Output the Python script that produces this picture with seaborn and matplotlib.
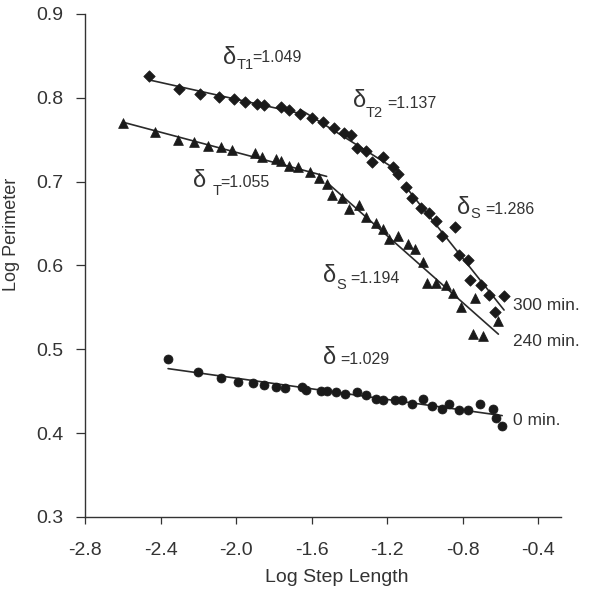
import matplotlib
matplotlib.use("Agg")
import numpy as np
import matplotlib.pyplot as plt
import seaborn as sns

# 300 min. (diamonds)
x_300 = [-2.46, -2.30, -2.19, -2.09, -2.01, -1.95, -1.89, -1.85, -1.76, -1.72,
         -1.66, -1.60, -1.54, -1.48, -1.43, -1.39, -1.36, -1.31, -1.28, -1.22,
         -1.17, -1.14, -1.10, -1.07, -1.02, -0.98, -0.94, -0.91, -0.84, -0.82,
         -0.77, -0.76, -0.70, -0.66, -0.63, -0.58]
y_300 = [0.826, 0.811, 0.805, 0.801, 0.798, 0.795, 0.793, 0.791, 0.789, 0.785,
         0.781, 0.776, 0.771, 0.764, 0.758, 0.756, 0.740, 0.737, 0.723, 0.729,
         0.718, 0.709, 0.693, 0.680, 0.669, 0.662, 0.653, 0.635, 0.646, 0.612,
         0.606, 0.583, 0.577, 0.565, 0.545, 0.563]

# 240 min. (triangles)
x_240 = [-2.60, -2.43, -2.31, -2.22, -2.15, -2.08, -2.02, -1.90, -1.86, -1.79,
         -1.76, -1.72, -1.67, -1.61, -1.56, -1.52, -1.49, -1.44, -1.40, -1.35,
         -1.31, -1.26, -1.22, -1.19, -1.14, -1.09, -1.05, -1.01, -0.99, -0.94,
         -0.89, -0.85, -0.81, -0.735, -0.61, -0.745, -0.69]
y_240 = [0.770, 0.759, 0.750, 0.747, 0.743, 0.741, 0.738, 0.734, 0.729, 0.727,
         0.725, 0.719, 0.717, 0.712, 0.704, 0.697, 0.684, 0.681, 0.667, 0.672,
         0.658, 0.651, 0.644, 0.631, 0.635, 0.626, 0.620, 0.604, 0.579, 0.579,
         0.577, 0.567, 0.550, 0.561, 0.534, 0.518, 0.516]

# 0 min. (circles)
x_0 = [-2.36, -2.20, -2.08, -1.99, -1.91, -1.85, -1.79, -1.74, -1.65, -1.63,
       -1.55, -1.52, -1.47, -1.42, -1.36, -1.31, -1.26, -1.22, -1.16, -1.12,
       -1.07, -1.01, -0.96, -0.91, -0.87, -0.82, -0.77, -0.71, -0.64, -0.62,
       -0.59]
y_0 = [0.489, 0.473, 0.466, 0.461, 0.460, 0.457, 0.455, 0.454, 0.455, 0.451,
       0.450, 0.450, 0.449, 0.447, 0.449, 0.445, 0.441, 0.439, 0.439, 0.439,
       0.435, 0.441, 0.432, 0.429, 0.435, 0.427, 0.427, 0.435, 0.429, 0.418,
       0.408]

# x ranges of the fitted straight segments
seg_300 = [(-2.47, -1.66), (-1.66, -1.14), (-1.10, -0.57)]
seg_240 = [(-2.61, -1.52), (-1.52, -0.60)]
seg_0 = [(-2.37, -0.58)]

x_ticks = [-2.8, -2.4, -2.0, -1.6, -1.2, -0.8, -0.4]
y_ticks = [0.3, 0.4, 0.5, 0.6, 0.7, 0.8, 0.9]

sns.set_theme(style="ticks")
plt.rcParams['font.family'] = ['Liberation Sans', 'DejaVu Sans']

ink = '#1a1a1a'
txt = '#333333'

fig = plt.figure(figsize=(5.95, 5.96), dpi=100)
ax = fig.add_axes([0.1429, 0.1326, 0.7994, 0.844])


def draw_series(xs, ys, segs, marker, size):
    xs = np.array(xs)
    ys = np.array(ys)
    sns.scatterplot(x=xs, y=ys, marker=marker, s=size, color=ink,
                    edgecolor=ink, linewidth=0.5, ax=ax, zorder=3)
    for lo, hi in segs:
        m = (xs >= lo) & (xs <= hi)
        sns.regplot(x=xs[m], y=ys[m], scatter=False, ci=None, truncate=True,
                    color='#2a2a2a', line_kws={'linewidth': 1.2}, ax=ax)


draw_series(x_300, y_300, seg_300, 'D', 34)
draw_series(x_240, y_240, seg_240, '^', 50)
draw_series(x_0, y_0, seg_0, 'o', 42)

ax.set_xlim(-2.8, -0.28)
ax.set_ylim(0.3, 0.9)
ax.set_xticks(x_ticks)
ax.set_yticks(y_ticks)
ax.set_xticklabels([f"{v:.1f}" for v in x_ticks])
ax.set_yticklabels([f"{v:.1f}" for v in y_ticks])
ax.tick_params(axis='x', length=5, width=0.9, pad=13, labelsize=14,
               colors=txt)
ax.tick_params(axis='y', length=6.5, width=0.9, pad=9, labelsize=14,
               colors=txt)
for side in ['top', 'right']:
    ax.spines[side].set_visible(False)
for side in ['left', 'bottom']:
    ax.spines[side].set_color('#333333')
    ax.spines[side].set_linewidth(1.0)

ax.set_xlabel("Log Step Length", fontsize=14, color=txt, va='center')
ax.set_ylabel("Log Perimeter", fontsize=13, color=txt)
ax.xaxis.set_label_coords(0.53, -0.121)
ax.yaxis.set_label_coords(-0.137, 0.561)


def delta_label(x, y, sub, sub_x, sub_y, num, num_x, num_y):
    ax.text(x, y, "δ", fontsize=17, color=txt, ha='left', va='center')
    if sub:
        ax.text(sub_x, sub_y, sub, fontsize=10.5, color=txt,
                ha='left', va='center')
    ax.text(num_x, num_y, num, fontsize=11.5, color=txt,
            ha='left', va='center')


delta_label(-2.070, 0.8475, "T1", -1.996, 0.839, "=1.049", -1.915, 0.8475)
delta_label(-1.381, 0.7956, "T2", -1.314, 0.7819, "=1.137", -1.201, 0.7926)
delta_label(-0.830, 0.6691, "S", -0.757, 0.6613, "=1.286", -0.680, 0.6673)
delta_label(-2.228, 0.7013, "T", -2.126, 0.6888, "=1.055", -2.083, 0.6989)
delta_label(-1.537, 0.5880, "S", -1.468, 0.5766, "=1.194", -1.393, 0.5850)
delta_label(-1.539, 0.4895, "", 0, 0, "=1.029", -1.449, 0.4883)

ax.text(-0.533, 0.5527, "300 min.", fontsize=12.5, color=txt, va='center')
ax.text(-0.533, 0.5098, "240 min.", fontsize=12.5, color=txt, va='center')
ax.text(-0.533, 0.4155, "0 min.", fontsize=12.5, color=txt, va='center')

fig.savefig("out.png", dpi=100, facecolor='white')
